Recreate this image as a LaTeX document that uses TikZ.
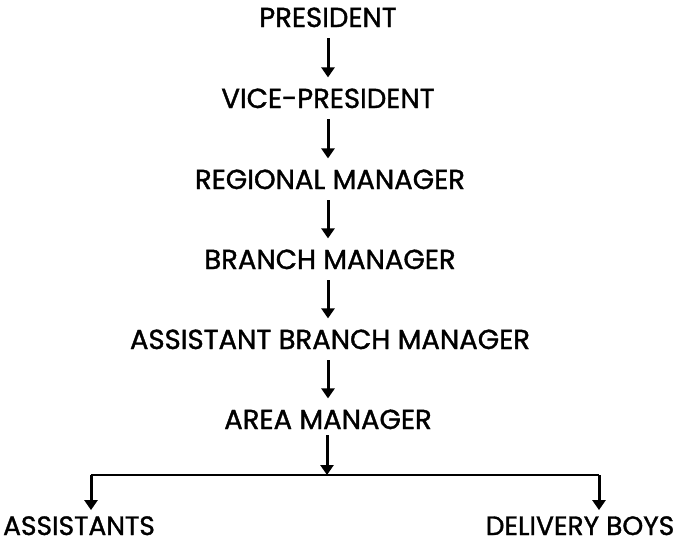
\documentclass[tikz,border=0pt]{standalone}
\usepackage{fontspec}
\setmainfont{Poppins}[FakeBold=1.3]
\usetikzlibrary{arrows.meta}
\begin{document}
\begin{tikzpicture}[x=1pt,y=-1pt,
  lbl/.style={anchor=base,inner sep=0pt,font=\fontsize{27.5}{30}\selectfont},
  arr/.style={line width=3pt,-{Triangle[width=13pt,length=10pt]}},
  bar/.style={line width=2.4pt}]
\useasboundingbox (0,0) rectangle (683,547);
\node[lbl] (pres) at (328,27) {PRESIDENT};
\node[lbl] (vp) at (328,108) {VICE-PRESIDENT};
\node[lbl] (reg) at (330,189) {REGIONAL MANAGER};
\node[lbl] (br) at (330,269) {BRANCH MANAGER};
\node[lbl] (abm) at (330,349) {ASSISTANT BRANCH MANAGER};
\node[lbl] (area) at (328,429) {AREA MANAGER};
\node[lbl,font=\fontsize{26.5}{30}\selectfont] (asst) at (79,535) {ASSISTANTS};
\node[lbl,font=\fontsize{26.5}{30}\selectfont] (dlv) at (580,535) {DELIVERY BOYS};
\coordinate (j) at (327,475);
\coordinate (jl) at (91,475);
\coordinate (jr) at (599,475);
\draw[arr,shorten <=11pt,shorten >=11pt] (pres.south) -- (pres.south |- vp.north);
\draw[arr,shorten <=11pt,shorten >=11pt] (vp.south) -- (vp.south |- reg.north);
\draw[arr,shorten <=11pt,shorten >=11pt] (vp.south |- reg.south) -- (vp.south |- br.north);
\draw[arr,shorten <=11pt,shorten >=11pt] (vp.south |- br.south) -- (vp.south |- abm.north);
\draw[arr,shorten <=11pt,shorten >=11pt] (vp.south |- abm.south) -- (vp.south |- area.north);
\draw[arr,shorten <=6pt] (j |- area.south) -- (j);
\draw[bar] (jl) -- (jr);
\draw[arr,shorten >=6pt] (jl) -- (jl |- asst.north);
\draw[arr,shorten >=6pt] (jr) -- (jr |- dlv.north);
\end{tikzpicture}
\end{document}
